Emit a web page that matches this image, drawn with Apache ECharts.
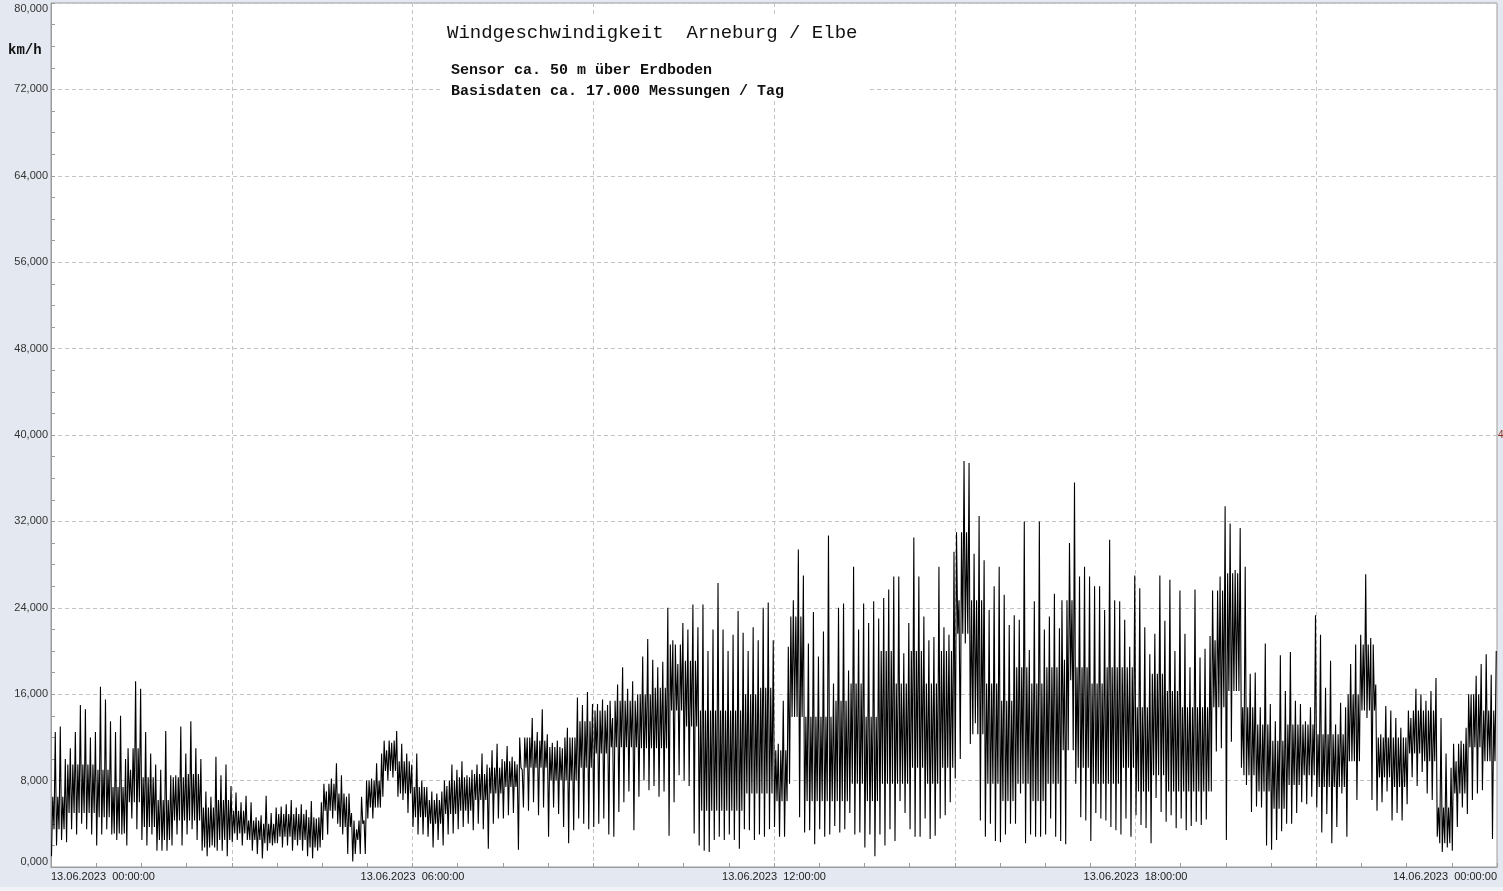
<!DOCTYPE html>
<html>
<head>
<meta charset="utf-8">
<script src="https://cdn.jsdelivr.net/npm/echarts@6/dist/echarts.min.js"></script>
<style>
html,body{margin:0;padding:0;background:#e4e8f0;}
#chart{width:1503px;height:891px;}
</style>
</head>
<body>
<div id="chart"></div>
<script>
// Tick labels
const xTickLabels = ['13.06.2023  00:00:00','13.06.2023  06:00:00','13.06.2023  12:00:00','13.06.2023  18:00:00','14.06.2023  00:00:00'];
const yUnit = 'km/h';
const titleText = 'Windgeschwindigkeit  Arneburg / Elbe';
const subText1 = 'Sensor ca. 50 m über Erdboden';
const subText2 = 'Basisdaten ca. 17.000 Messungen / Tag';

// Wind speed extremes per 5-minute interval (km/h): high and low within each interval
// 00:00 - 03:00
const hiA = [12.5,13.0,10.0,11.0,12.5,15.0,14.6,12.0,12.5,16.7,15.5,13.5,12.5,14.0,10.0,9.0,17.2,16.5,12.5,10.5,9.5,9.0,12.6,8.5,8.5,13.0,10.5,13.5,11.0,10.0,7.0,6.5,10.2,8.5,9.5,7.5];
const loA = [1.0,2.0,2.5,2.3,3.5,3.0,4.0,3.5,3.0,2.0,3.0,3.5,3.0,2.5,3.0,2.0,4.5,3.5,2.5,2.0,3.0,1.5,1.5,1.5,2.0,3.0,2.0,3.0,3.5,2.5,1.5,1.0,2.0,1.5,1.5,1.0];
// 03:00 - 06:00
const hiB = [6.9,6.0,6.6,6.0,4.6,4.8,6.6,5.0,5.5,5.6,5.8,6.2,5.5,5.8,5.3,6.1,4.5,6.0,7.0,8.2,9.6,8.5,6.5,5.0,3.5,6.5,8.0,8.2,9.6,10.5,10.8,11.5,12.6,11.4,10.5,9.5];
const loB = [2.3,2.5,2.0,2.5,1.5,1.2,0.8,1.5,2.0,2.2,1.8,2.0,1.5,2.0,1.5,1.0,0.8,1.5,2.5,3.0,4.5,4.0,3.0,1.2,0.5,2.5,4.0,4.5,4.5,5.5,6.5,8.0,8.3,6.5,6.2,5.0];
// 06:00 - 09:00
const hiC = [10.5,8.0,7.4,7.0,6.8,7.0,7.5,9.5,9.0,9.8,8.5,9.0,9.5,10.5,9.5,10.8,11.4,10.0,11.2,10.2,9.5,9.0,12.0,13.8,12.5,14.6,12.3,11.5,11.7,11.0,12.9,12.0,15.7,15.0,16.2,15.1];
const loC = [3.7,3.0,3.0,2.8,1.8,2.5,2.0,3.0,3.1,3.5,3.7,4.0,3.4,4.0,3.5,1.7,4.0,4.5,4.5,4.8,5.0,1.6,5.5,5.2,6.0,4.8,5.5,2.8,5.5,4.9,3.7,2.2,3.4,4.5,4.0,3.5];
// 09:00 - 12:00
const hiD = [15.1,15.5,15.0,13.8,16.9,18.5,16.5,17.2,16.0,19.5,21.1,19.2,18.5,19.0,24.0,21.0,18.8,22.6,22.0,24.3,22.2,24.3,20.0,22.0,26.3,22.0,20.0,21.5,23.7,21.7,20.0,22.2,21.0,24.0,24.5,21.0];
const loD = [3.7,4.0,4.5,3.0,2.8,5.1,6.0,7.0,3.4,6.5,8.0,7.1,7.5,6.5,7.0,2.9,6.0,8.5,8.0,7.5,3.1,2.0,1.5,1.4,2.5,2.8,2.5,3.0,2.5,1.7,3.5,3.4,2.5,3.0,2.8,3.5];
// 12:00 - 15:00
const hiE = [11.4,15.4,20.4,24.7,29.4,27.0,20.7,23.6,19.5,21.8,30.7,17.0,24.0,24.4,18.2,27.8,22.0,24.4,22.6,24.6,23.0,24.9,25.7,26.9,26.9,19.8,22.6,30.5,26.9,23.2,21.0,21.3,27.8,22.2,21.5,29.2];
const loE = [3.7,2.8,2.8,7.7,13.9,4.6,3.2,3.4,2.1,3.5,2.8,3.0,3.8,3.2,3.5,5.0,3.0,3.2,1.8,3.0,1.0,3.0,2.0,3.5,2.4,6.1,5.0,3.5,2.8,2.8,4.5,2.6,2.9,4.5,4.8,6.0];
// 15:00 - 18:00
const hiF = [24.7,37.6,37.4,29.0,32.5,28.4,23.8,26.0,27.8,25.2,22.4,23.3,22.9,32.0,20.1,24.6,32.0,22.0,23.2,25.3,22.1,19.2,30.0,35.6,26.9,27.8,26.9,26.0,26.0,23.8,30.3,24.7,24.6,22.9,20.4,27.0];
const loF = [8.2,10.0,20.7,11.4,13.3,4.3,2.8,4.0,2.4,2.3,3.0,4.0,4.0,6.8,2.2,3.0,2.8,2.8,3.0,4.5,2.8,2.4,2.1,17.3,7.7,4.6,4.3,2.4,5.0,4.5,4.3,3.7,3.4,3.0,4.5,2.8];
// 18:00 - 21:00
const hiG = [25.8,22.2,19.7,21.6,27.0,22.8,26.6,20.0,25.6,21.6,18.5,25.7,19.4,20.2,21.4,21.0,26.9,33.4,31.8,27.5,31.4,27.8,17.9,18.0,14.8,20.7,15.1,13.5,19.6,16.3,19.9,15.4,15.1,13.5,14.8,23.3];
const loG = [4.8,3.9,3.6,2.2,6.4,5.1,4.2,4.8,3.6,4.5,3.4,3.8,4.2,3.9,4.4,7.0,10.7,11.0,2.5,11.6,16.3,9.2,7.6,5.1,5.6,5.5,2.0,1.6,2.5,3.3,4.0,4.0,5.0,6.0,5.8,6.5];
// 21:00 - 24:00
const hiH = [21.5,16.6,19.1,13.2,15.2,14.8,18.8,20.6,21.5,27.1,21.2,16.9,12.3,14.9,14.5,13.8,12.9,12.0,13.8,16.5,16.0,15.4,16.3,17.5,13.8,10.5,9.2,9.8,11.7,12.9,16.0,17.7,18.8,19.7,17.8,20.0];
const loH = [5.5,3.2,4.9,2.2,3.7,6.8,2.8,9.8,6.2,14.5,13.8,6.2,5.2,6.0,7.0,4.3,5.0,4.3,5.8,8.3,7.5,8.8,6.8,6.2,2.8,1.4,1.8,1.5,3.7,5.5,4.9,6.2,6.8,7.1,9.8,2.6];

// Dense core band of the trace per 15-minute interval (km/h): upper and lower edge
const coreHi = [
  6.5,9.5,9.5,9.0,7.4,11.0,8.3,6.2,8.3,8.6,5.5,6.2,
  5.2,4.3,4.0,4.9,4.9,4.6,7.7,6.8,4.3,8.0,11.7,9.8,
  7.4,6.2,8.0,8.3,8.6,9.2,9.8,12.0,11.7,11.1,12.0,13.5,
  14.5,15.4,15.4,16.0,16.6,20.6,19.1,14.5,14.5,14.5,16.0,16.6,
  10.8,23.2,13.9,13.9,15.4,17.0,13.9,20.0,17.0,20.0,17.0,20.0,
  31.0,24.7,17.0,15.4,18.5,17.0,18.5,24.7,18.5,17.0,18.5,18.5,
  14.8,17.9,16.3,14.8,14.8,25.6,27.2,14.8,13.2,11.7,13.2,13.2,
  12.3,12.3,16.0,20.6,12.0,12.0,14.5,14.5,5.5,11.4,16.0,14.5
];
const coreLo = [
  3.5,5.0,5.0,4.6,3.1,6.0,3.7,2.5,4.3,4.3,1.8,2.5,
  3.1,2.5,2.2,2.8,2.5,1.8,5.2,3.7,1.2,5.5,8.9,6.8,
  4.6,4.0,4.9,5.2,6.2,6.8,7.4,9.2,9.2,8.0,8.0,9.2,
  10.5,11.1,11.1,11.0,11.0,14.5,13.0,5.2,5.2,5.2,6.8,6.8,
  6.1,13.9,6.1,6.1,6.1,7.7,6.1,7.7,7.7,9.2,7.7,9.2,
  21.6,12.3,7.7,6.1,7.7,6.1,7.7,10.8,9.2,7.7,7.7,9.2,
  7.0,8.5,7.0,7.0,7.0,14.8,16.3,8.5,7.0,5.4,7.6,8.5,
  7.4,7.4,9.8,14.5,8.3,7.4,10.5,9.8,2.2,6.8,11.1,9.8
];

const hi = [].concat(hiA,hiB,hiC,hiD,hiE,hiF,hiG,hiH);
const lo = [].concat(loA,loB,loC,loD,loE,loF,loG,loH);
const step = 5;       // minutes per extremes interval
const coreGroup = 3;  // extremes intervals per core interval

const seriesData = [];
for (let i = 0; i < hi.length; i++) {
  const c = Math.floor(i / coreGroup);
  const t = i * step;
  seriesData.push([t + 0.5, lo[i]]);
  seriesData.push([t + 1.75, coreHi[c]]);
  seriesData.push([t + 3.0, coreLo[c]]);
  seriesData.push([t + 4.25, hi[i]]);
}

const chart = echarts.init(document.getElementById('chart'), null, {renderer: 'canvas'});
const gridColor = '#c4c4c4';
const axisColor = '#9c9c9c';
chart.setOption({
  animation: false,
  backgroundColor: '#e4e8f0',
  grid: {left: 51, right: 6, top: 3, bottom: 24, show: true, backgroundColor: '#ffffff', borderColor: axisColor, borderWidth: 1},
  xAxis: {
    type: 'value', min: 0, max: 1440, interval: 180,
    axisLine: {show: true, lineStyle: {color: axisColor}},
    axisTick: {show: true, inside: true, length: 4, lineStyle: {color: axisColor}},
    minorTick: {show: true, splitNumber: 4, length: 4, lineStyle: {color: axisColor}},
    splitLine: {show: true, lineStyle: {color: gridColor, type: [4, 3], width: 1}},
    axisLabel: {
      fontFamily: 'Liberation Sans, Arial, sans-serif', fontSize: 11, color: '#222', margin: 4,
      alignMinLabel: 'left', alignMaxLabel: 'right', showMinLabel: true, showMaxLabel: true,
      formatter: function (v) { return (v % 360 === 0) ? xTickLabels[v / 360] : ''; }
    }
  },
  yAxis: {
    type: 'value', min: 0, max: 80, interval: 8,
    axisLine: {show: true, lineStyle: {color: axisColor}},
    axisTick: {show: true, inside: true, length: 4, lineStyle: {color: axisColor}},
    minorTick: {show: true, splitNumber: 4, length: 4, lineStyle: {color: axisColor}},
    splitLine: {show: true, lineStyle: {color: gridColor, type: [4, 3], width: 1}},
    axisLabel: {
      fontFamily: 'Liberation Sans, Arial, sans-serif', fontSize: 11, color: '#333', margin: 3,
      verticalAlignMinLabel: 'bottom', verticalAlignMaxLabel: 'top',
      formatter: function (v) { return v.toFixed(3).replace('.', ','); }
    }
  },
  series: [{
    type: 'line', data: seriesData, showSymbol: false, symbol: 'none',
    lineStyle: {color: '#000', width: 1.1}, sampling: null, z: 3
  }],
  graphic: [
    {type: 'rect', left: 443, top: 14, shape: {width: 425, height: 86}, style: {fill: '#ffffff'}, z: 1},
    {type: 'text', left: 447, top: 23, style: {text: titleText, font: 'normal 19px "Liberation Mono", "Courier New", monospace', fill: '#111'}, z: 5},
    {type: 'text', left: 451, top: 63, style: {text: subText1, font: 'bold 15px "Liberation Mono", "Courier New", monospace', fill: '#111'}, z: 5},
    {type: 'text', left: 451, top: 84, style: {text: subText2, font: 'bold 15px "Liberation Mono", "Courier New", monospace', fill: '#111'}, z: 5},
    {type: 'text', left: 8, top: 43, style: {text: yUnit, font: 'bold 14px "Liberation Mono", "Courier New", monospace', fill: '#111'}, z: 5},
    {type: 'text', left: 1498, top: 430, style: {text: '4', font: '10px "Liberation Sans", Arial', fill: '#8b2a1a'}, z: 5},
    {type: 'rect', left: 0, top: 887, shape: {width: 1503, height: 4}, style: {fill: '#f2f3f6'}, z: 1}
  ]
});
</script>
</body>
</html>
